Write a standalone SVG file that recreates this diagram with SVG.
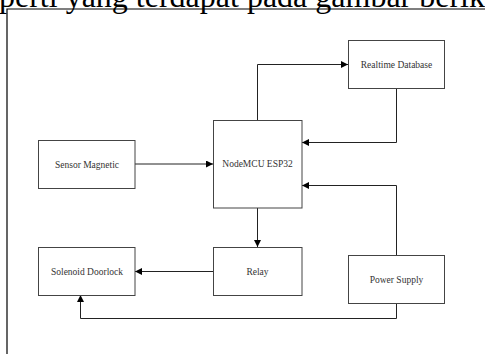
<svg xmlns="http://www.w3.org/2000/svg" width="485" height="354" viewBox="0 0 485 354">
<defs>
<style>
.box{fill:#fff;stroke:#444;stroke-width:1}
.lbl{font-family:"Liberation Serif","Times New Roman",serif;font-size:9.5px;fill:#333;text-anchor:middle;dominant-baseline:central}
.con{fill:none;stroke:#222;stroke-width:1}
.frame{stroke:#000;stroke-width:1.2;fill:none}
</style>
<marker id="ah" viewBox="0 0 10 10" refX="10" refY="5" markerWidth="7" markerHeight="7" orient="auto" markerUnits="userSpaceOnUse">
<path d="M0,0 L10,5 L0,10 z" fill="#000"/>
</marker>
</defs>
<rect width="485" height="354" fill="#fff"/>
<text x="-1" y="7" font-family="Liberation Serif,'Times New Roman',serif" font-size="32" fill="#000">perti yang terdapat pada gambar berik</text>
<path class="frame" d="M7,354 V9 H485"/>
<g id="connectors">
<path class="con" d="M135,164 H213" marker-end="url(#ah)"/>
<path class="con" d="M257.5,120 V64.5 H348" marker-end="url(#ah)"/>
<path class="con" d="M396.5,89 V142.5 H302" marker-end="url(#ah)"/>
<path class="con" d="M396.5,255 V185.5 H302" marker-end="url(#ah)"/>
<path class="con" d="M257.5,208 V247" marker-end="url(#ah)"/>
<path class="con" d="M213,271.5 H135" marker-end="url(#ah)"/>
<path class="con" d="M396.5,303 V318.5 H80.5 V295" marker-end="url(#ah)"/>
</g>
<g id="sensor"><rect class="box" x="38.5" y="140.5" width="96.5" height="48"/><text class="lbl" x="87" y="164.5">Sensor Magnetic</text></g>
<g id="nodemcu"><rect class="box" x="213.5" y="120.5" width="88.5" height="87.5"/><text class="lbl" x="257.5" y="164">NodeMCU ESP32</text></g>
<g id="database"><rect class="box" x="348.5" y="40.5" width="96" height="48"/><text class="lbl" x="396.5" y="64.5">Realtime Database</text></g>
<g id="relay"><rect class="box" x="213.5" y="247.5" width="88.5" height="48"/><text class="lbl" x="257.5" y="271.5">Relay</text></g>
<g id="solenoid"><rect class="box" x="38.5" y="247.5" width="96.5" height="48"/><text class="lbl" x="87" y="271.5">Solenoid Doorlock</text></g>
<g id="power"><rect class="box" x="348.5" y="255.5" width="96" height="48"/><text class="lbl" x="396.5" y="279.5">Power Supply</text></g>
</svg>
